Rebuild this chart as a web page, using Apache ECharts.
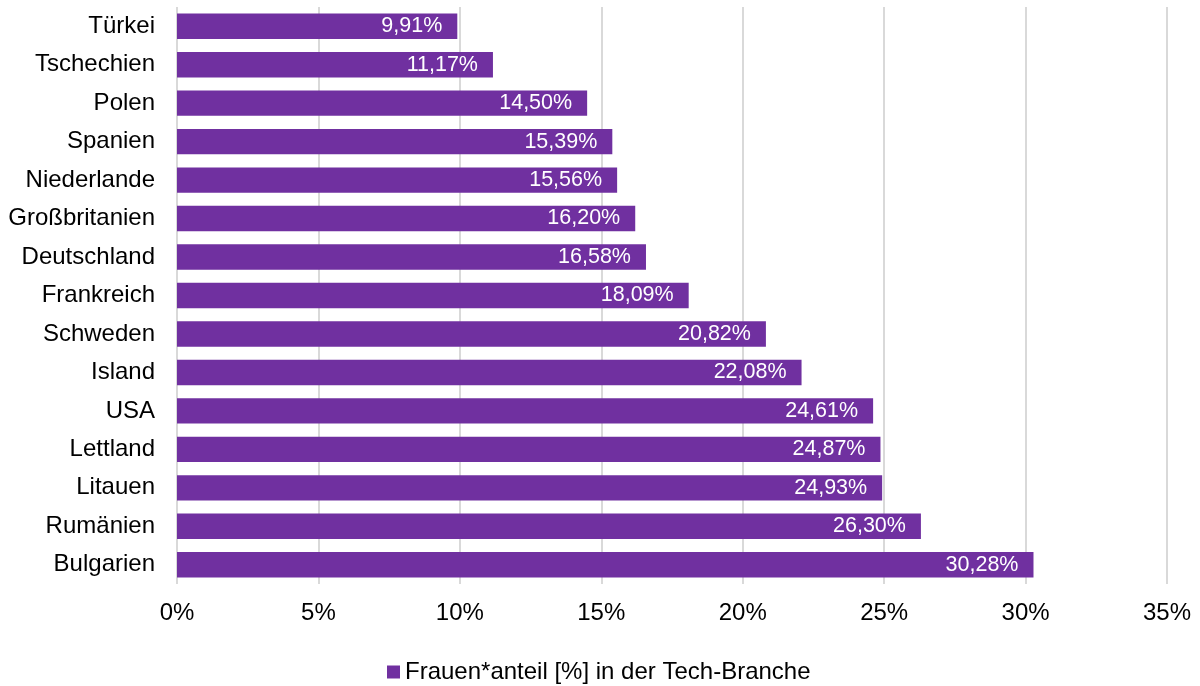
<!DOCTYPE html>
<html>
<head>
<meta charset="utf-8">
<script src="https://cdn.jsdelivr.net/npm/echarts@6/dist/echarts.min.js"></script>
<style>html,body{margin:0;padding:0;background:#fff}#c{width:1200px;height:686px}</style>
</head>
<body>
<div id="c"></div>
<script>
const categories = ["Türkei","Tschechien","Polen","Spanien","Niederlande","Großbritanien","Deutschland","Frankreich","Schweden","Island","USA","Lettland","Litauen","Rumänien","Bulgarien"];
const values = [9.91,11.17,14.50,15.39,15.56,16.20,16.58,18.09,20.82,22.08,24.61,24.87,24.93,26.30,30.28];
const seriesName = "Frauen*anteil [%] in der Tech-Branche";
const xTicks = [0,5,10,15,20,25,30,35];

const chart = echarts.init(document.getElementById('c'));
const font = 'Liberation Sans, Arial, sans-serif';
chart.setOption({
  animation: false,
  grid: {left: 177, right: 33, top: 7, bottom: 102, containLabel: false},
  legend: {
    data: [seriesName], top: 655, left: 382,
    icon: 'rect', itemWidth: 13, itemHeight: 13, itemGap: 5,
    textStyle: {fontFamily: font, fontSize: 24, color: '#000'}
  },
  xAxis: {
    type: 'value', min: xTicks[0], max: xTicks[xTicks.length-1], interval: 5,
    axisLine: {show: false}, axisTick: {show: false},
    splitLine: {lineStyle: {color: '#d9d9d9', width: 2}},
    axisLabel: {fontFamily: font, fontSize: 24, color: '#000', margin: 17, formatter: v => v + '%'}
  },
  yAxis: {
    type: 'category', data: categories, inverse: true,
    axisLine: {show: false}, axisTick: {show: false},
    axisLabel: {fontFamily: font, fontSize: 24, color: '#000', margin: 22}
  },
  series: [{
    name: seriesName, type: 'bar', data: values, barWidth: '66%',
    itemStyle: {color: '#7030A0'},
    label: {
      show: true, position: 'insideRight', distance: 15,
      color: '#fff', fontFamily: font, fontSize: 21.5,
      formatter: p => p.value.toFixed(2).replace('.', ',') + '%'
    }
  }]
});
</script>
</body>
</html>
